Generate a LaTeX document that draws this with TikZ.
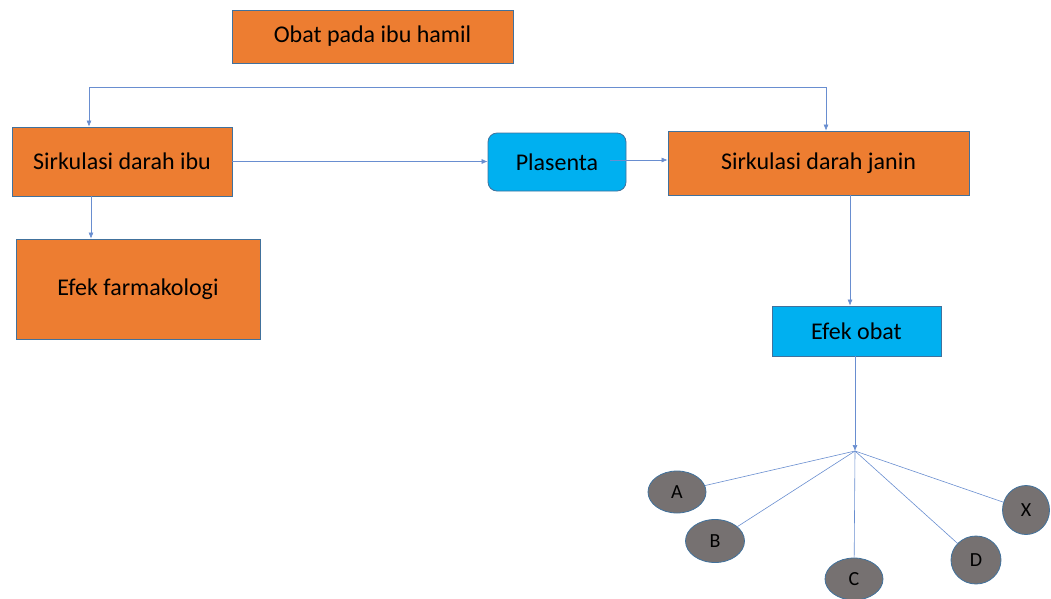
\documentclass[tikz,border=0pt]{standalone}
\usepackage{fontspec}
\setmainfont{Carlito}
\usetikzlibrary{arrows.meta,shapes.geometric}
\definecolor{orng}{HTML}{ED7D31}
\definecolor{bdr}{HTML}{41719C}
\definecolor{cyanb}{HTML}{00B0F0}
\definecolor{grayel}{HTML}{767171}
\definecolor{lnk}{HTML}{4472C4}
\begin{document}
\begin{tikzpicture}[x=1pt,y=-1pt,
  obox/.style={draw=bdr,line width=0.8pt,fill=orng,font=\fontsize{24}{28}\selectfont,inner sep=0pt},
  cbox/.style={draw=bdr,line width=0.8pt,fill=cyanb,font=\fontsize{24}{28}\selectfont,inner sep=0pt},
  ell/.style={ellipse,draw=bdr,line width=0.8pt,fill=grayel,font=\fontsize{20}{24}\selectfont,inner sep=0pt},
  conn/.style={draw=lnk!80,line width=0.6pt},
  arr/.style={conn,-{Latex[length=6pt,width=5pt]}}]
\useasboundingbox (0,0) rectangle (1051,598);
\node[obox,minimum width=281pt,minimum height=53pt] (obat) at (372.5,36.5) {Obat pada ibu hamil};
\node[obox,minimum width=220pt,minimum height=69pt] (ibu) at (122,161.5) {Sirkulasi darah ibu};
\node[obox,minimum width=244pt,minimum height=100pt] (farm) at (138,289) {Efek farmakologi};
\node[cbox,rounded corners=9pt,minimum width=138pt,minimum height=58pt] (plas) at (557,162) {Plasenta};
\node[obox,minimum width=301pt,minimum height=64pt] (janin) at (818.5,163) {Sirkulasi darah janin};
\node[cbox,minimum width=169pt,minimum height=50pt] (efek) at (856.5,331) {Efek obat};
\coordinate (hub) at (855,451);
\node[ell,minimum width=58pt,minimum height=42pt] (A) at (677,492) {A};
\node[ell,minimum width=59pt,minimum height=43pt] (B) at (715,541) {B};
\node[ell,minimum width=58pt,minimum height=42pt] (C) at (854,579) {C};
\node[ell,minimum width=50pt,minimum height=48pt] (D) at (976,560) {D};
\node[ell,minimum width=47pt,minimum height=49pt] (X) at (1026,510) {X};
% top connector
\coordinate (tl) at (89,87);
\coordinate (tr) at (826,87);
\draw[conn] (tl) -- (tr);
\draw[arr] (tl) -- (ibu.north -| tl);
\draw[arr] (tr) -- (janin.north -| tr);
\draw[arr] (ibu.east) -- (ibu.east -| plas.west);
\coordinate (pin) at (610,160);
\draw[arr] (pin) -- (pin -| janin.west);
\draw[arr] (ibu.south -| 91,0) -- (farm.north -| 91,0);
\draw[arr] (janin.south -| 850,0) -- (efek.north -| 850,0);
\draw[arr] (efek.south -| hub) -- (hub);
\draw[conn] (hub) -- (A);
\draw[conn] (hub) -- (B);
\draw[conn] (hub) -- (C);
\draw[conn] (hub) -- (D);
\draw[conn] (hub) -- (X);
\end{tikzpicture}
\end{document}
